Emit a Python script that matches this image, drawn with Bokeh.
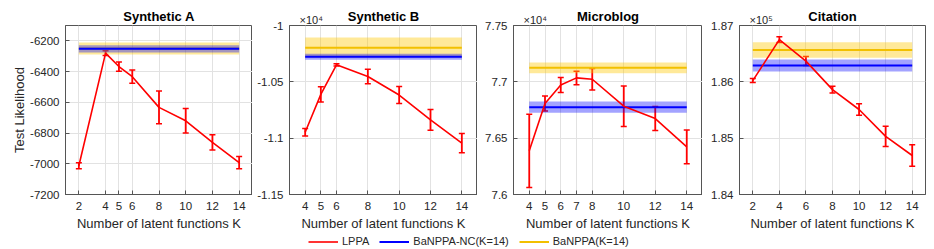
from bokeh.plotting import figure
from bokeh.models import (Range1d, FixedTicker, Whisker, TeeHead, ColumnDataSource,
                          Title, Legend, LegendItem)
from bokeh.layouts import row, column
from bokeh.embed import file_html
from bokeh.resources import INLINE

# ---------------- data ----------------
titles = ["Synthetic A", "Synthetic B", "Microblog", "Citation"]

kA = [2, 4, 5, 6, 8, 10, 12, 14]
lppaA = [-7013, -6280, -6367, -6433, -6633, -6720, -6861, -6993]
errA = [20, 15, 30, 43, 107, 80, 50, 40]
ncA, ncA_sd = -6252, 23
baA, baA_sd = -6250, 39

kB = [4, 5, 6, 8, 10, 12, 14]
lppaB = [-10948, -10611, -10349, -10453, -10617, -10838, -11044]
errB = [33, 67, 10, 64, 75, 92, 85]
ncB, ncB_sd = -10277, 27
baB, baB_sd = -10197, 90

kC = [4, 5, 6, 7, 8, 10, 12, 14]
lppaC = [76388, 76808, 76972, 77035, 77023, 76784, 76674, 76423]
errC = [325, 67, 67, 60, 95, 180, 107, 150]
ncC, ncC_sd = 76775, 50
baC, baC_sd = 77124, 48

kD = [2, 4, 6, 8, 10, 12, 14]
lppaD = [186022, 186750, 186368, 185861, 185509, 185032, 184692]
errD = [36, 50, 80, 60, 100, 180, 190]
ncD, ncD_sd = 186290, 107
baD, baD_sd = 186565, 137

scales = [1, 1e4, 1e4, 1e5]
scale_labels = [None, "×10⁴", "×10⁴", "×10⁵"]
yranges = [(-7200, -6100), (-1.15, -1.0), (7.6, 7.75), (1.84, 1.87)]
yticks = [[-7200, -7000, -6800, -6600, -6400, -6200],
          [-1.15, -1.1, -1.05, -1.0],
          [7.6, 7.65, 7.7, 7.75],
          [1.84, 1.85, 1.86, 1.87]]
ytick_labels = [["-7200", "-7000", "-6800", "-6600", "-6400", "-6200"],
                ["-1.15", "-1.1", "-1.05", "-1"],
                ["7.6", "7.65", "7.7", "7.75"],
                ["1.84", "1.85", "1.86", "1.87"]]
xranges = [(1, 15), (3, 15), (3, 15), (1, 15)]

series_names = ["LPPA", "BaNPPA-NC(K=14)", "BaNPPA(K=14)"]

# ---------------- style ----------------
FONT = "Liberation Sans"
RED = "#FF0000"
BLUE = "#0000FF"
YEL = "#F2C000"
YEL_BAND = "#FFC800"
AXC = "#555555"
TXT = "#262626"

fig_widths = [252, 225, 225, 232]
border_lefts = [65, 37, 36, 37]
border_rights = [0, 0, 0, 9]
FIG_H = 235
LEG_H = 249 - FIG_H

panels = [
    (kA, lppaA, errA, ncA, ncA_sd, baA, baA_sd),
    (kB, lppaB, errB, ncB, ncB_sd, baB, baB_sd),
    (kC, lppaC, errC, ncC, ncC_sd, baC, baC_sd),
    (kD, lppaD, errD, ncD, ncD_sd, baD, baD_sd),
]

figs = []
for i, (k, m, e, nc, ncs, ba, bas) in enumerate(panels):
    s = scales[i]
    p = figure(width=fig_widths[i], height=FIG_H,
               x_range=Range1d(*xranges[i]), y_range=Range1d(*yranges[i]),
               output_backend="svg", toolbar_location=None,
               min_border_left=border_lefts[i], min_border_right=border_rights[i],
               min_border_top=25, min_border_bottom=41)
    p.background_fill_color = "white"
    p.border_fill_color = "white"
    p.outline_line_color = AXC
    p.outline_line_width = 1

    if scale_labels[i] is None:
        p.title.text = titles[i]
        p.title.align = "center"
        p.title.text_font = FONT
        p.title.text_font_size = "13px"
        p.title.text_font_style = "bold"
        p.title.text_color = "#000000"
        p.title.standoff = 3
    else:
        # outer title: exponent label, pulled down next to the frame
        p.title.text = scale_labels[i]
        p.title.align = "left"
        p.title.offset = 10
        p.title.text_font = FONT
        p.title.text_font_size = "11px"
        p.title.text_font_style = "normal"
        p.title.text_color = TXT
        p.title.standoff = -40
        # inner title: panel name
        p.add_layout(Title(text=titles[i], align="center", text_font=FONT,
                           text_font_size="13px", text_font_style="bold",
                           text_color="#000000", standoff=3), "above")

    xs = [k[0], k[-1]]
    # BaNPPA band + line
    p.varea(x=xs, y1=[(ba - bas) / s] * 2, y2=[(ba + bas) / s] * 2,
            fill_color=YEL_BAND, fill_alpha=0.4)
    p.line(x=xs, y=[ba / s] * 2, line_color=YEL, line_width=2)
    # BaNPPA-NC band + line
    p.varea(x=xs, y1=[(nc - ncs) / s] * 2, y2=[(nc + ncs) / s] * 2,
            fill_color=BLUE, fill_alpha=0.36)
    p.line(x=xs, y=[nc / s] * 2, line_color=BLUE, line_width=2)
    # LPPA
    src = ColumnDataSource(dict(k=k, y=[v / s for v in m],
                                lo=[(v - d) / s for v, d in zip(m, e)],
                                hi=[(v + d) / s for v, d in zip(m, e)]))
    p.line("k", "y", source=src, line_color=RED, line_width=1.6)
    wh = Whisker(base="k", upper="hi", lower="lo", source=src,
                 line_color=RED, line_width=1.8,
                 upper_head=TeeHead(size=6, line_color=RED, line_width=1.5),
                 lower_head=TeeHead(size=6, line_color=RED, line_width=1.5))
    p.add_layout(wh)

    # axes
    p.xaxis.ticker = FixedTicker(ticks=k)
    p.yaxis.ticker = FixedTicker(ticks=yticks[i])
    p.yaxis.major_label_overrides = {t: l for t, l in zip(yticks[i], ytick_labels[i])}
    for ax in (p.xaxis[0], p.yaxis[0]):
        ax.major_tick_in = 4
        ax.major_tick_out = 0
        ax.minor_tick_in = 0
        ax.minor_tick_out = 0
        ax.axis_line_color = AXC
        ax.major_tick_line_color = AXC
        ax.major_label_text_font = FONT
        ax.major_label_text_font_size = "11.5px"
        ax.major_label_text_color = TXT
        ax.axis_label_text_font = FONT
        ax.axis_label_text_font_size = "13px"
        ax.axis_label_text_font_style = "normal"
        ax.axis_label_text_color = TXT
    p.yaxis.major_label_standoff = 6
    p.xaxis.major_label_standoff = 7
    p.xaxis.axis_label = "Number of latent functions K"
    p.xaxis.axis_label_standoff = 3
    if i == 0:
        p.yaxis.axis_label = "Test Likelihood"
        p.yaxis.axis_label_standoff = 0

    p.xgrid.ticker = FixedTicker(ticks=k)
    p.ygrid.ticker = FixedTicker(ticks=yticks[i])
    p.xgrid.grid_line_color = "#E2E2E2"
    p.ygrid.grid_line_color = "#E2E2E2"
    figs.append(p)

# ---------------- legend strip ----------------
lf = figure(width=934, height=LEG_H, min_border=0, x_axis_location=None,
            y_axis_location=None, toolbar_location=None, output_backend="svg",
            x_range=Range1d(0, 1), y_range=Range1d(0, 1))
lf.outline_line_color = None
lf.xgrid.visible = False
lf.ygrid.visible = False
r1 = lf.line(x=[0, 1], y=[5, 5], line_color=RED, line_width=1.6)
r2 = lf.line(x=[0, 1], y=[5, 5], line_color=BLUE, line_width=2)
r3 = lf.line(x=[0, 1], y=[5, 5], line_color=YEL, line_width=2)
leg = Legend(items=[LegendItem(label=series_names[0], renderers=[r1]),
                    LegendItem(label=series_names[1], renderers=[r2]),
                    LegendItem(label=series_names[2], renderers=[r3])],
             orientation="horizontal", location=(308, 2),
             border_line_color=None, background_fill_alpha=0,
             padding=0, margin=0, spacing=10, glyph_width=30, glyph_height=11,
             label_height=11, label_standoff=4,
             label_text_font=FONT, label_text_font_size="11px",
             label_text_color=TXT)
lf.add_layout(leg)

layout = column(row(*figs, spacing=0), lf, spacing=0)

open("out.html", "w").write(file_html(layout, INLINE))
